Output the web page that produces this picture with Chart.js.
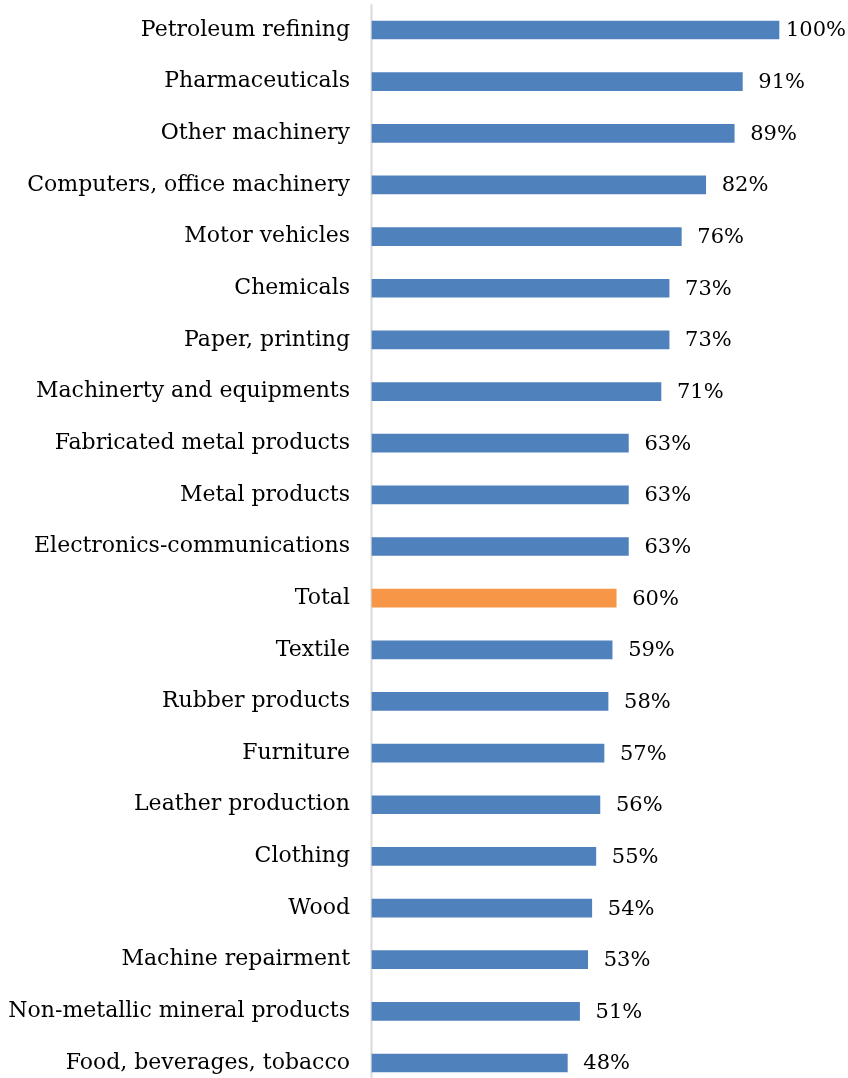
<!DOCTYPE html>
<html>
<head>
<meta charset="utf-8">
<script src="https://cdn.jsdelivr.net/npm/chart.js@4"></script>
<style>
  html, body { margin: 0; padding: 0; background: #fff; }
  #wrap { width: 848px; height: 1078px; position: relative; }
</style>
</head>
<body>
<div id="wrap"><canvas id="chart"></canvas></div>
<script>
// start: data
const categories = [
    'Petroleum refining',
    'Pharmaceuticals',
    'Other machinery',
    'Computers, office machinery',
    'Motor vehicles',
    'Chemicals',
    'Paper, printing',
    'Machinerty and equipments',
    'Fabricated metal products',
    'Metal products',
    'Electronics-communications',
    'Total',
    'Textile',
    'Rubber products',
    'Furniture',
    'Leather production',
    'Clothing',
    'Wood',
    'Machine repairment',
    'Non-metallic mineral products',
    'Food, beverages, tobacco',
];
const shares = [100, 91, 89, 82, 76, 73, 73, 71, 63, 63, 63, 60, 59, 58, 57, 56, 55, 54, 53, 51, 48];
const highlight = 'Total';
// end: data

const FONT = 'DejaVu Serif';
const barColors = categories.map(c => c === highlight ? '#f79646' : '#4f81bd');

// axis line runs half a row above the first bar and down to the bottom edge
const axisLine = {
    id: 'axisLine',
    beforeDatasetsDraw(chart) {
        const ctx = chart.ctx;
        const area = chart.chartArea;
        const step = (area.bottom - area.top) / (categories.length - 1);
        const x = Math.round(chart.scales.x.getPixelForValue(0)) - 0.5;
        ctx.save();
        ctx.strokeStyle = '#d9d9d9';
        ctx.lineWidth = 2;
        ctx.beginPath();
        ctx.moveTo(x, area.top - step / 2);
        ctx.lineTo(x, chart.height);
        ctx.stroke();
        ctx.restore();
    }
};

// value labels at the end of each bar
const valueLabels = {
    id: 'valueLabels',
    afterDatasetsDraw(chart) {
        const ctx = chart.ctx;
        const meta = chart.getDatasetMeta(0);
        ctx.save();
        ctx.font = '21px "' + FONT + '"';
        ctx.fillStyle = '#000';
        ctx.textBaseline = 'middle';
        ctx.textAlign = 'left';
        meta.data.forEach((bar, i) => {
            const txt = shares[i] + '%';
            const w = ctx.measureText(txt).width;
            let x = bar.x + 16;
            if (x + w > chart.width - 2) x = chart.width - 2 - w;
            ctx.fillText(txt, x, bar.y + 1);
        });
        ctx.restore();
    }
};

new Chart(document.getElementById('chart'), {
    type: 'bar',
    data: {
        labels: categories,
        datasets: [{
            data: shares,
            backgroundColor: barColors,
            barThickness: 18,
            clip: false,
        }]
    },
    options: {
        indexAxis: 'y',
        responsive: true,
        maintainAspectRatio: false,
        animation: false,
        layout: {
            padding: { top: 30, right: 69, bottom: 15, left: 0 }
        },
        plugins: {
            legend: { display: false },
            tooltip: { enabled: false }
        },
        scales: {
            x: {
                display: false,
                min: 0,
                max: 100
            },
            y: {
                offset: false,
                grid: { display: false, drawTicks: false },
                border: { display: false },
                ticks: {
                    color: '#000',
                    padding: 22,
                    font: { family: FONT, size: 22 }
                },
                afterFit(scale) {
                    scale.width = 372;
                    scale.paddingTop = 0;
                    scale.paddingBottom = 0;
                }
            }
        }
    },
    plugins: [axisLine, valueLabels]
})
</script>
</body>
</html>
